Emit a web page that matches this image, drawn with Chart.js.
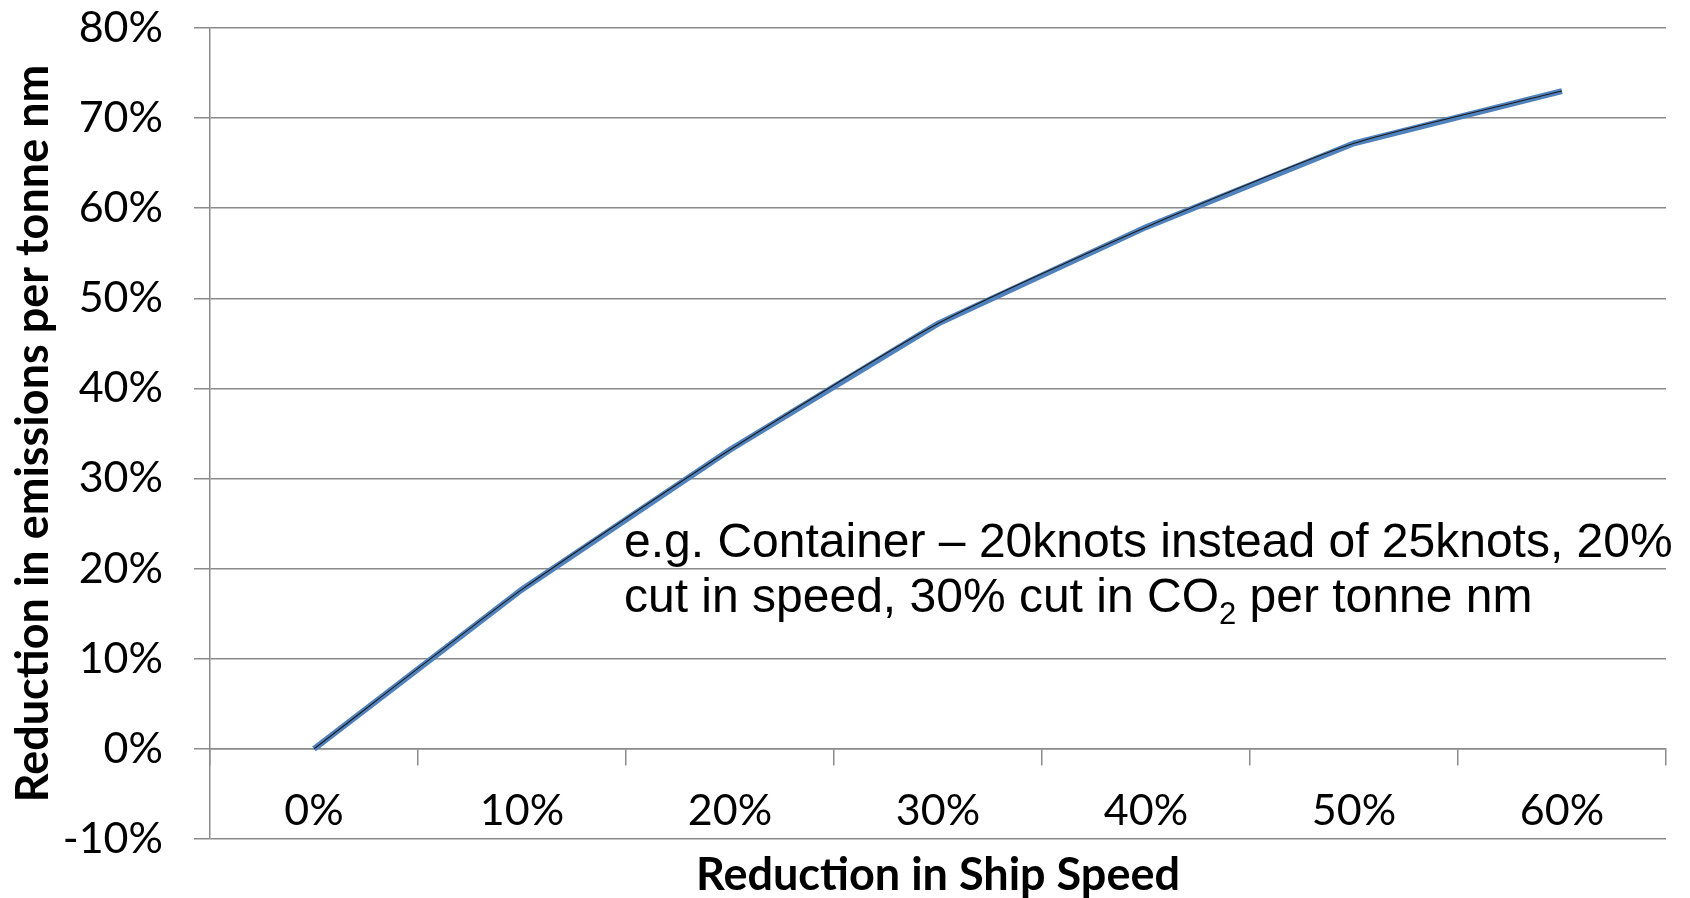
<!DOCTYPE html>
<html>
<head>
<meta charset="utf-8">
<script src="https://cdn.jsdelivr.net/npm/chart.js@4/dist/chart.umd.min.js"></script>
<style>
  html, body { margin: 0; padding: 0; background: #ffffff; }
  #wrap { width: 1690px; height: 898px; }
</style>
</head>
<body>
<div id="wrap"><canvas id="chart" width="1690" height="898"></canvas></div>
<script>
// Reduction in ship speed (%) and the matching cut in CO2 per tonne nm (%)
const speedReduction = [0, 10, 20, 30, 40, 50, 60];
const emissionReduction = [0, 17.7, 33.2, 47.2, 57.9, 67.2, 73.0];
const speedLabels = speedReduction.map(v => v + '%');
const yTickValues = [-10, 0, 10, 20, 30, 40, 50, 60, 70, 80];

const noteLine1 = 'e.g. Container \u2013 20knots instead of 25knots, 20%';
const noteLine2a = 'cut in speed, 30% cut in CO';
const noteSub = '2';
const noteLine2b = ' per tonne nm';

const GRID = '#8a8a8a';
const FONT = 'Lato, "Open Sans", "Noto Sans", sans-serif';

const points = speedReduction.map((s, i) => ({ x: s, y: emissionReduction[i] }));

// Text box with the worked example, drawn over the curve
const notePlugin = {
  id: 'note',
  afterDatasetsDraw(chart) {
    const ctx = chart.ctx;
    ctx.save();
    ctx.fillStyle = '#000';
    ctx.textBaseline = 'alphabetic';
    ctx.textAlign = 'left';
    const big = '48px "Liberation Sans", Arial, sans-serif';
    const small = '31px "Liberation Sans", Arial, sans-serif';
    const x0 = 624;
    ctx.font = big;
    ctx.fillText(noteLine1, x0, 557);
    ctx.fillText(noteLine2a, x0, 612);
    let x = x0 + ctx.measureText(noteLine2a).width;
    ctx.font = small;
    ctx.fillText(noteSub, x, 624);
    x += ctx.measureText(noteSub).width;
    ctx.font = big;
    ctx.fillText(noteLine2b, x, 612);
    ctx.restore();
  }
};

new Chart(document.getElementById('chart'), {
  type: 'line',
  data: {
    datasets: [
      {
        label: 'smoothed',
        data: points,
        borderColor: '#1a1a1a',
        borderWidth: 1.1,
        tension: 0.2,
        pointRadius: 0,
        fill: false,
        order: 0
      },
      {
        label: 'CO2 per tonne nm',
        data: points,
        borderColor: '#4F81BD',
        borderWidth: 6,
        tension: 0,
        pointRadius: 0,
        fill: false,
        order: 1
      }
    ]
  },
  options: {
    responsive: false,
    animation: false,
    devicePixelRatio: 1,
    layout: { padding: { left: 0, right: 24, top: 28, bottom: 0 } },
    plugins: { legend: { display: false }, tooltip: { enabled: false } },
    scales: {
      x: {
        type: 'linear',
        position: 'bottom',
        min: -5,
        max: 65,
        ticks: { display: false },
        grid: { display: false },
        border: { display: false },
        title: {
          display: true,
          text: 'Reduction in Ship Speed',
          color: '#000',
          font: { family: FONT, size: 45, weight: 'bold', lineHeight: 1.0 },
          padding: { top: 0, bottom: 0 }
        },
        afterFit(scale) { scale.height = 59; scale.paddingLeft = 0; scale.paddingRight = 0; }
      },
      xCat: {
        type: 'category',
        axis: 'x',
        labels: speedLabels,
        position: { y: 0 },
        offset: true,
        grid: {
          offset: true,
          drawOnChartArea: false,
          drawTicks: true,
          tickLength: 16,
          color: GRID,
          lineWidth: 1.5
        },
        border: { display: true, color: GRID, width: 1.5 },
        ticks: {
          color: '#000',
          font: { family: FONT, size: 43 },
          padding: 20,
          maxRotation: 0,
          autoSkip: false
        }
      },
      y: {
        type: 'linear',
        min: -10,
        max: 80,
        afterBuildTicks(scale) { scale.ticks = yTickValues.map(v => ({ value: v })); },
        ticks: {
          color: '#000',
          font: { family: FONT, size: 43 },
          padding: 31,
          callback: v => v + '%'
        },
        grid: { color: GRID, lineWidth: 1.5, tickLength: 16 },
        border: { display: true, color: GRID, width: 1.5 },
        title: {
          display: true,
          text: 'Reduction in emissions per tonne nm',
          color: '#000',
          font: { family: FONT, size: 45, weight: 'bold', lineHeight: 1.2 },
          padding: { top: 6, bottom: 0 }
        },
        afterFit(scale) { scale.width = 210; scale.paddingTop = 0; scale.paddingBottom = 0; }
      }
    }
  },
  plugins: [notePlugin]
});
</script>
</body>
</html>
